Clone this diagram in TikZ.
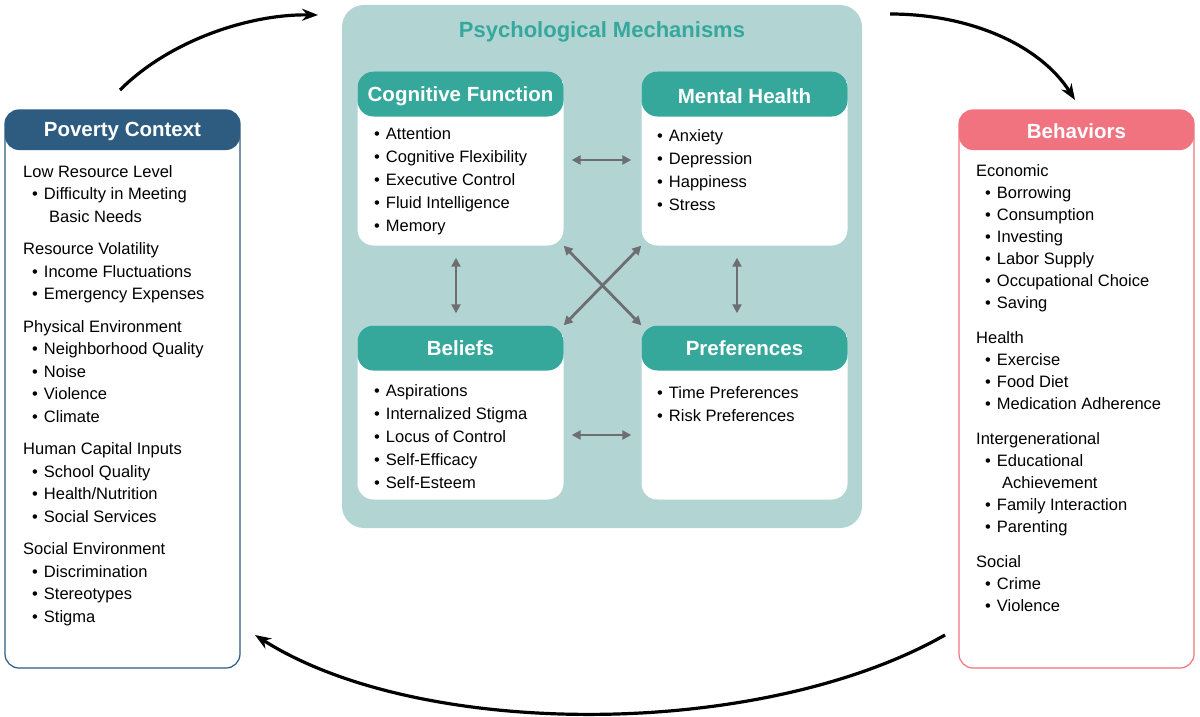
\documentclass[tikz,border=0pt]{standalone}
\usepackage{fontspec}
\setmainfont{Liberation Sans}
\usetikzlibrary{arrows.meta,positioning}
\definecolor{povblue}{HTML}{2D5C80}
\definecolor{behpink}{HTML}{F0737F}
\definecolor{mechteal}{HTML}{35A89B}
\definecolor{panel}{HTML}{B2D5D4}
\definecolor{arrgray}{HTML}{6D6E71}
\newcommand{\itm}{\hspace*{9pt}\textbullet\hspace{6pt}}
\newcommand{\cnt}{\hspace*{26pt}}
\tikzset{
  box/.style={draw=#1, line width=1.2pt, fill=white, rounded corners=14pt,
    minimum width=235pt, minimum height=558pt,
    path picture={\fill[#1] (path picture bounding box.north west)
      rectangle ([yshift=-40pt]path picture bounding box.north east);}},
  inner/.style={fill=white, rounded corners=16pt, minimum width=206pt, minimum height=174pt,
    path picture={\fill[mechteal] (path picture bounding box.north west)
      rectangle ([yshift=-45pt]path picture bounding box.north east);}},
  head/.style={text=white, font=\fontsize{20.5}{24}\selectfont\bfseries},
  list/.style={anchor=north west, align=left, inner sep=0pt, font=\fontsize{16.5}{#1}\selectfont},
  list/.default=22.5,
  dbl/.style={{Triangle[length=9pt,width=9pt]}-{Triangle[length=9pt,width=9pt]}, arrgray, line width=2.8pt},
  flow/.style={-{Stealth[length=16pt,width=12pt]}, line width=3.2pt}
}
\begin{document}
\begin{tikzpicture}[x=1pt,y=-1pt]
  \useasboundingbox (0,0) rectangle (1200,717);

  % outer boxes
  \node[box=povblue] (P) at (122.5,389) {};
  \node[head] at (122.5,131) {Poverty Context};
  \node[box=behpink] (B) at (1076.5,389) {};
  \node[head] at (1076.5,131) {Behaviors};

  % mechanisms panel
  \node[fill=panel, rounded corners=22pt, minimum width=520pt, minimum height=523pt] (M) at (602,266.5) {};
  \node[text=mechteal, font=\fontsize{22}{24}\selectfont\bfseries] at (602,32) {Psychological Mechanisms};

  \node[inner] (C) at (460.5,158.5) {};
  \node[head] at (460.5,96) {Cognitive Function};
  \node[inner] (H) at (744.5,158.5) {};
  \node[head] at (744.5,96) {Mental Health};
  \node[inner] (E) at (460.5,412.5) {};
  \node[head] at (460.5,348) {Beliefs};
  \node[inner] (F) at (744.5,412.5) {};
  \node[head] at (744.5,348) {Preferences};

  % lists
  \node[list] at (23,165) {Low Resource Level\\
    \itm Difficulty in Meeting\\ \cnt Basic Needs\\[10pt]
    Resource Volatility\\ \itm Income Fluctuations\\ \itm Emergency Expenses\\[10pt]
    Physical Environment\\ \itm Neighborhood Quality\\ \itm Noise\\ \itm Violence\\ \itm Climate\\[10pt]
    Human Capital Inputs\\ \itm School Quality\\ \itm Health/Nutrition\\ \itm Social Services\\[10pt]
    Social Environment\\ \itm Discrimination\\ \itm Stereotypes\\ \itm Stigma};
  \node[list=22] at (976,164) {Economic\\
    \itm Borrowing\\ \itm Consumption\\ \itm Investing\\ \itm Labor Supply\\ \itm Occupational Choice\\ \itm Saving\\[13pt]
    Health\\ \itm Exercise\\ \itm Food Diet\\ \itm Medication Adherence\\[13pt]
    Intergenerational\\ \itm Educational\\ \cnt Achievement\\ \itm Family Interaction\\ \itm Parenting\\[13pt]
    Social\\ \itm Crime\\ \itm Violence};
  \node[list=23] at (365,127) {\itm Attention\\ \itm Cognitive Flexibility\\ \itm Executive Control\\ \itm Fluid Intelligence\\ \itm Memory};
  \node[list=23] at (648,129) {\itm Anxiety\\ \itm Depression\\ \itm Happiness\\ \itm Stress};
  \node[list=23] at (365,384) {\itm Aspirations\\ \itm Internalized Stigma\\ \itm Locus of Control\\ \itm Self-Efficacy\\ \itm Self-Esteem};
  \node[list=23] at (648,386) {\itm Time Preferences\\ \itm Risk Preferences};

  % arrows between mechanisms
  \draw[dbl] ([xshift=8pt]C.east|-0,160) -- ([xshift=-10pt]H.west|-0,160);
  \draw[dbl] ([xshift=8pt]E.east|-0,435) -- ([xshift=-10pt]F.west|-0,435);
  \draw[dbl] ([yshift=-12pt]C.south-|456,0) -- ([yshift=12pt]E.north-|456,0);
  \draw[dbl] ([yshift=-12pt]H.south-|737,0) -- ([yshift=12pt]F.north-|737,0);
  \draw[dbl] (C.south east) -- (F.north west);
  \draw[dbl] (H.south west) -- (E.north east);

  % cycle
  \coordinate (p1) at (120,90);
  \coordinate (m1) at (318,15);
  \coordinate (m2) at (890,14);
  \coordinate (b1) at (1075,100);
  \coordinate (b2) at (945,635);
  \coordinate (p2) at (255,635);
  \draw[flow] (p1) .. controls (170,40) and (250,14) .. (m1);
  \draw[flow] (m2) .. controls (970,14) and (1040,45) .. (b1);
  \draw[flow] (b2) .. controls (760,740) and (420,740) .. (p2);
\end{tikzpicture}
\end{document}
